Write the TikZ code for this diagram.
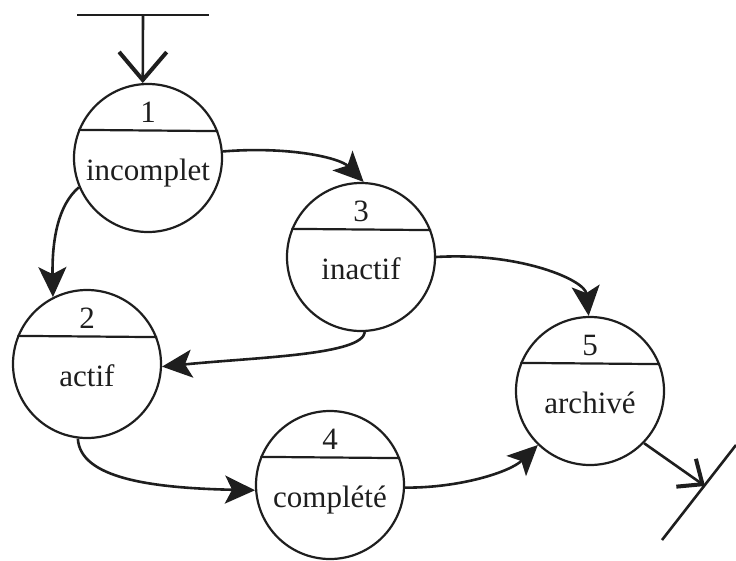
\documentclass[tikz,border=0pt]{standalone}
\usepackage{fontspec}
\setmainfont{Liberation Serif}
\usetikzlibrary{arrows.meta,calc}
\definecolor{ink}{HTML}{1E1E1E}
\tikzset{
  stt/.style={circle, draw=ink, line width=2.2pt, minimum size=148pt, inner sep=0pt},
  divl/.style={draw=ink, line width=2.2pt},
  numl/.style={anchor=base, font=\fontsize{31}{31}\selectfont, text=ink, inner sep=0pt},
  labl/.style={anchor=base, font=\fontsize{31}{31}\selectfont, text=ink, inner sep=0pt},
  flow/.style={draw=ink, line width=2.6pt, -{Stealth[length=30pt, width=28pt, inset=7pt]}},
  gate/.style={draw=ink, line width=2.6pt},
  openarr/.style={draw=ink, line width=2.6pt, -{Straight Barb[length=#1, width=1.7*#1, line width=4pt]}},
}
\newcommand{\stateCircle}[4]{%
  \node[stt] (#1) at (#2) {};
  \draw[divl] (#1.158.6) -- (#1.21.4);
  \node[numl] (#1n) at ($(#1)+(0,-36)$) {#3};
  \node[labl] (#1l) at ($(#1)+(0,22)$) {#4};
}
\begin{document}
\begin{tikzpicture}[x=1pt, y=-1pt]
\useasboundingbox (0,0) rectangle (736,560);
\stateCircle{c1}{148,158}{1}{incomplet}
\stateCircle{c3}{361,257}{3}{inactif}
\stateCircle{c2}{87,364}{2}{actif}
\stateCircle{c4}{330,485}{4}{complété}
\stateCircle{c5}{590,391}{5}{archivé}
% entry
\coordinate (inL) at (77,15);
\coordinate (inR) at (209,15);
\coordinate (inM) at (143,15);
\draw[gate] (inL) -- (inR);
\draw[openarr=28pt] (inM) -- (c1.94);
% exit
\coordinate (exA) at (662,540);
\coordinate (exB) at (736,445);
\coordinate (exT) at (705,486);
\draw[gate] (exA) -- (exB);
\draw[openarr=20pt] (c5.-44) -- (exT);
% transitions
\draw[flow] (c1.5) .. controls (290,146) and (340,158) .. (c3.88);
\draw[flow] (c1.203) .. controls (58,205) and (52,240) .. (c2.117);
\draw[flow] (c3.0) .. controls (520,252) and (585,280) .. (c5.91);
\draw[flow] (c3.-87) .. controls (362,355) and (260,357) .. (c2.-2);
\draw[flow] (c2.-97) .. controls (80,478) and (150,488) .. (c4.184);
\draw[flow] (c4.-2) .. controls (460,488) and (510,472) .. (c5.226);
\end{tikzpicture}
\end{document}
